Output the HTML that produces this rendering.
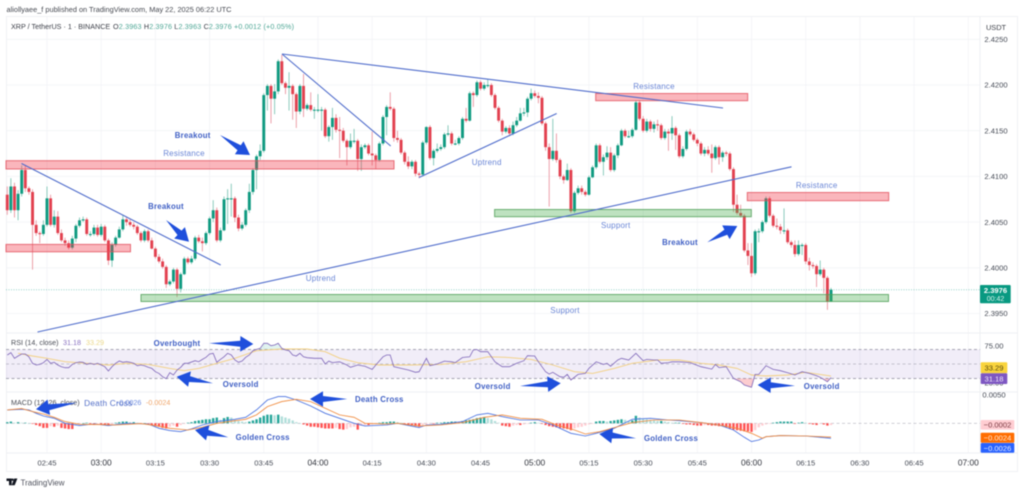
<!DOCTYPE html>
<html lang="en">
<head>
<meta charset="utf-8">
<title>XRP / TetherUS chart</title>
<style>
html,body{margin:0;padding:0;background:#fff;width:1024px;height:493px;overflow:hidden}
svg{display:block;filter:blur(0.5px)}
text{font-family:"Liberation Sans",sans-serif}
.lbl{font-size:8px;fill:#6a86d6;text-anchor:middle;letter-spacing:.2px}
.bold{font-size:7.8px;fill:#3f5fc4;font-weight:bold;text-anchor:middle;letter-spacing:.25px}
.tick{font-size:7.6px;fill:#454a55;text-anchor:middle}
.pink{fill:#f23645;fill-opacity:.36;stroke:#e2505c;stroke-opacity:.8;stroke-width:1}
.grn{fill:#4caf50;fill-opacity:.36;stroke:#4d9e55;stroke-opacity:.8;stroke-width:1}
.trend{stroke:#4f6ccb;stroke-width:1.1;fill:none}
</style>
</head>
<body>
<svg id="chart" xmlns="http://www.w3.org/2000/svg" width="1024" height="493" viewBox="0 0 1024 493">
  <rect x="0" y="0" width="1024" height="493" fill="#fff"/>
  <text x="6.5" y="12" font-size="7.6" fill="#474a52" textLength="225" lengthAdjust="spacingAndGlyphs">aliollyaee_f published on TradingView.com, May 22, 2025 06:22 UTC</text>
  <rect x="6.5" y="16.5" width="1011" height="455" fill="none" stroke="#f0f1f4"/>
  <g id="grid"></g>
  <g stroke="#eeeff3">
    <line x1="6" y1="333" x2="1018" y2="333"/>
    <line x1="6" y1="392" x2="1018" y2="392"/>
    <line x1="6" y1="453" x2="1018" y2="453"/>
    <line x1="980" y1="16" x2="980" y2="453"/>
  </g>

  <g id="candles"></g>

  <line id="priceLine" x1="6" x2="980" stroke="#089981" stroke-opacity=".55" stroke-width=".7" stroke-dasharray="1 1.5"/>

  <g>
    <rect class="pink" x="6" y="160.7" width="388" height="8.3"/>
    <rect class="pink" x="6" y="244.4" width="124.5" height="7.4"/>
    <rect class="pink" x="595.7" y="93.5" width="152" height="7.2"/>
    <rect class="pink" x="747.3" y="192.5" width="141.4" height="8.2"/>
    <rect class="grn" x="141" y="294.5" width="747.5" height="7"/>
    <rect class="grn" x="494.6" y="209.5" width="256.7" height="7.2"/>
  </g>
  <g>
    <line class="trend" x1="21.5" y1="163.5" x2="220.7" y2="265"/>
    <line class="trend" x1="37.5" y1="332" x2="791.5" y2="166.8"/>
    <line class="trend" x1="282" y1="54" x2="723" y2="108"/>
    <line class="trend" x1="282" y1="54" x2="390.7" y2="146"/>
    <line class="trend" x1="419" y1="177.5" x2="556.7" y2="113.5"/>
  </g>
  <g>
    <text class="lbl" x="184" y="156">Resistance</text>
    <text class="lbl" x="654" y="89">Resistance</text>
    <text class="lbl" x="816.7" y="188">Resistance</text>
    <text class="lbl" x="320.7" y="281">Uptrend</text>
    <text class="lbl" x="486.7" y="165">Uptrend</text>
    <text class="lbl" x="615.7" y="228">Support</text>
    <text class="lbl" x="565" y="313">Support</text>
    <text class="bold" x="192.7" y="138">Breakout</text>
    <text class="bold" x="166" y="209">Breakout</text>
    <text class="bold" x="680" y="245">Breakout</text>
  </g>

  <g>
    <rect id="rsiBand" x="6" width="974" fill="#7e57c2" fill-opacity=".11"/>
    <line id="rsi70" x1="6" x2="980" stroke="#8a8a9a" stroke-width=".7" stroke-dasharray="3 2.5"/>
    <line id="rsi50" x1="6" x2="980" stroke="#9a9aa8" stroke-opacity=".7" stroke-width=".7" stroke-dasharray="3 2.5"/>
    <line id="rsi30" x1="6" x2="980" stroke="#8a8a9a" stroke-width=".7" stroke-dasharray="3 2.5"/>
    <defs>
      <clipPath id="belowBand"><rect id="belowRect" x="6" width="974" height="30"/></clipPath>
      <clipPath id="aboveBand"><rect id="aboveRect" x="6" width="974" height="20"/></clipPath>
    </defs>
    <path id="rsiLow" fill="#f23645" fill-opacity=".25" clip-path="url(#belowBand)"/>
    <path id="rsiHigh" fill="#089981" fill-opacity=".12" clip-path="url(#aboveBand)"/>
    <polyline id="rsiMaLine" fill="none" stroke="#f2cf7e" stroke-width=".9"/>
    <polyline id="rsiLine" fill="none" stroke="#7e66b8" stroke-width=".8"/>
  </g>

  <g>
    <line id="macdZero" x1="6" x2="980" stroke="#9a9aa8" stroke-opacity=".75" stroke-width=".7" stroke-dasharray="3 2.5"/>
    <g id="hist"></g>
    <polyline id="macdLine" fill="none" stroke="#4a72e0" stroke-width=".85"/>
    <polyline id="signalLine" fill="none" stroke="#f08a3c" stroke-width=".85"/>
  </g>

  <g font-size="7.2">
    <text x="11" y="29" fill="#3c3f48">XRP / TetherUS · 1 · BINANCE</text>
    <text x="113" y="29" fill="#3c3f48" textLength="181" lengthAdjust="spacing">O<tspan fill="#4fa796">2.3963</tspan>  H<tspan fill="#4fa796">2.3976</tspan>  L<tspan fill="#4fa796">2.3963</tspan>  C<tspan fill="#4fa796">2.3976</tspan>  <tspan fill="#4fa796">+0.0012 (+0.05%)</tspan></text>
    <text x="11" y="345" fill="#4a4d56">RSI (14, close)</text>
    <text x="63" y="345" fill="#8a72c0">31.18</text>
    <text x="86" y="345" fill="#ecd98a">33.29</text>
    <text x="11" y="405" fill="#4a4d56">MACD (12, 26, close)</text>
    <text x="117" y="405" fill="#6c8be0">-0.0026</text>
    <text x="146" y="405" fill="#efa66b">-0.0024</text>
  </g>

  <g>
    <text class="bold" x="177" y="346">Overbought</text>
    <text class="bold" x="240.7" y="387">Oversold</text>
    <text class="bold" x="492.7" y="389">Oversold</text>
    <text class="bold" x="821.7" y="389">Oversold</text>
    <text class="lbl" x="108.3" y="406" style="fill:#5470c8;font-size:8.3px">Death Cross</text>
    <text class="bold" x="379.3" y="402">Death Cross</text>
    <text class="bold" x="262.7" y="440">Golden Cross</text>
    <text class="bold" x="671" y="441">Golden Cross</text>
  </g>
  <g id="arrows"></g>

  <g id="priceAxis"></g>
  <g id="timeAxis"></g>

  <g>
    <rect x="982.7" y="19" width="32" height="17.5" rx="1.5" fill="#fff"/>
    <text x="996" y="30" font-size="7.4" fill="#3c3f48" text-anchor="middle">USDT</text>
  </g>
  <g font-size="7.6" text-anchor="middle">
    <rect x="980" y="285" width="30.7" height="18.3" rx="1" fill="#089981"/>
    <text x="995.5" y="293" fill="#fff" font-weight="bold">2.3976</text>
    <text x="995.5" y="301" fill="#d8f3ec" font-size="7">00:42</text>
    <text x="994" y="348.5" fill="#454a55">75.00</text>
    <text x="994" y="385.5" fill="#454a55">25.00</text>
    <rect x="980.7" y="362.3" width="26.6" height="11" rx="1" fill="#f9d43c"/>
    <text x="994" y="370.7" fill="#5a4a10">33.29</text>
    <rect x="980.7" y="373.3" width="26.6" height="10.7" rx="1" fill="#7e57c2"/>
    <text x="994" y="381.5" fill="#f0e8fb">31.18</text>
    <text x="994" y="397.3" fill="#454a55">0.0050</text>
    <rect x="980.7" y="420" width="33.6" height="9.6" rx="1" fill="#ffcdd2"/>
    <text x="997.5" y="427.6" fill="#7a3a42">−0.0002</text>
    <rect x="980.7" y="432.7" width="33.6" height="10" rx="1" fill="#ff6d00"/>
    <text x="997.5" y="440.6" fill="#ffe6d2">−0.0024</text>
    <rect x="980.7" y="443" width="33.6" height="9.7" rx="1" fill="#2962ff"/>
    <text x="997.5" y="450.8" fill="#e3ebff">−0.0026</text>
  </g>

  <g>
    <path d="M6.5 478.5h5.2v6.7h-2.7v-4.2h-2.5zM11.6 485.2l2.6-6.7h3.2l-2.7 6.7z" fill="#131722"/>
    <circle cx="12.6" cy="479.7" r="1.2" fill="#131722"/>
    <text x="20.5" y="485.5" font-size="8" fill="#50535e">TradingView</text>
  </g>
</svg>

<script>
const firstOpen = 2.4080;
const closes = [
2.4063,2.4089,2.4063,2.4081,2.4107,2.4087,2.4083,2.4047,2.4038,2.4037,
2.4047,2.4076,2.4047,2.4056,2.4038,2.4030,2.4027,2.4022,2.4032,2.4046,
2.4052,2.4053,2.4037,2.4037,2.4044,2.4036,2.4045,2.4030,2.4008,2.4025,
2.4033,2.4042,2.4053,2.4050,2.4047,2.4045,2.4038,2.4030,2.4040,2.4030,
2.4021,2.4012,2.4007,2.4001,2.3982,2.3985,2.3998,2.3977,2.3993,2.4010,
2.4006,2.4010,2.4033,2.4029,2.4027,2.4038,2.4054,2.4063,2.4030,2.4041,
2.4075,2.4076,2.4076,2.4055,2.4043,2.4047,2.4063,2.4083,2.4107,2.4122,
2.4128,2.4189,2.4199,2.4185,2.4193,2.4226,2.4202,2.4197,2.4199,2.4190,
2.4171,2.4199,2.4174,2.4178,2.4173,2.4173,2.4173,2.4173,2.4144,2.4154,
2.4164,2.4151,2.4150,2.4139,2.4132,2.4139,2.4139,2.4119,2.4132,2.4134,
2.4125,2.4123,2.4118,2.4136,2.4165,2.4176,2.4174,2.4142,2.4140,2.4126,
2.4116,2.4111,2.4116,2.4103,2.4102,2.4137,2.4154,2.4120,2.4128,2.4130,
2.4132,2.4146,2.4147,2.4136,2.4136,2.4142,2.4163,2.4161,2.4191,2.4189,
2.4203,2.4196,2.4200,2.4200,2.4189,2.4175,2.4161,2.4149,2.4153,2.4147,
2.4156,2.4161,2.4169,2.4170,2.4185,2.4191,2.4188,2.4186,2.4158,2.4132,
2.4119,2.4128,2.4118,2.4100,2.4096,2.4107,2.4062,2.4082,2.4087,2.4083,
2.4080,2.4099,2.4110,2.4134,2.4116,2.4121,2.4126,2.4107,2.4123,2.4134,
2.4150,2.4144,2.4144,2.4151,2.4181,2.4163,2.4150,2.4160,2.4152,2.4157,
2.4156,2.4142,2.4149,2.4147,2.4153,2.4145,2.4122,2.4130,2.4149,2.4146,
2.4140,2.4136,2.4125,2.4129,2.4125,2.4120,2.4132,2.4121,2.4126,2.4125,
2.4108,2.4069,2.4060,2.4057,2.4019,2.4013,2.3994,2.4040,2.4040,2.4050,
2.4076,2.4057,2.4046,2.4045,2.4041,2.4041,2.4028,2.4025,2.4015,2.4025,
2.4025,2.4007,2.4003,2.4002,2.3993,2.3998,2.3989,2.3963,2.3976];
const highs = [
2.4089,2.4098,2.4093,2.4085,2.4112,2.4112,2.4089,2.4086,2.4052,2.4040,
2.4052,2.4089,2.4080,2.4063,2.4062,2.4042,2.4033,2.4030,2.4035,2.4048,
2.4055,2.4056,2.4055,2.4040,2.4047,2.4047,2.4048,2.4047,2.4032,2.4028,
2.4035,2.4045,2.4058,2.4056,2.4053,2.4050,2.4047,2.4040,2.4042,2.4042,
2.4033,2.4023,2.4015,2.4010,2.4003,2.3987,2.4000,2.4000,2.3995,2.4012,
2.4012,2.4013,2.4035,2.4036,2.4033,2.4040,2.4056,2.4074,2.4066,2.4044,
2.4078,2.4086,2.4092,2.4078,2.4058,2.4050,2.4065,2.4092,2.4109,2.4124,
2.4135,2.4191,2.4201,2.4201,2.4201,2.4228,2.4233,2.4204,2.4214,2.4201,
2.4192,2.4201,2.4212,2.4180,2.4192,2.4176,2.4190,2.4176,2.4175,2.4156,
2.4175,2.4168,2.4165,2.4153,2.4141,2.4147,2.4152,2.4141,2.4135,2.4136,
2.4136,2.4149,2.4125,2.4138,2.4167,2.4178,2.4192,2.4176,2.4150,2.4142,
2.4128,2.4122,2.4118,2.4118,2.4105,2.4139,2.4155,2.4156,2.4130,2.4136,
2.4135,2.4148,2.4156,2.4149,2.4140,2.4144,2.4165,2.4175,2.4193,2.4193,
2.4205,2.4205,2.4203,2.4206,2.4202,2.4191,2.4177,2.4163,2.4155,2.4156,
2.4160,2.4165,2.4175,2.4175,2.4187,2.4196,2.4194,2.4192,2.4188,2.4160,
2.4136,2.4163,2.4147,2.4120,2.4102,2.4114,2.4109,2.4084,2.4090,2.4090,
2.4085,2.4101,2.4112,2.4136,2.4136,2.4124,2.4133,2.4132,2.4125,2.4136,
2.4152,2.4152,2.4150,2.4153,2.4183,2.4183,2.4166,2.4163,2.4162,2.4160,
2.4162,2.4158,2.4152,2.4152,2.4166,2.4155,2.4147,2.4133,2.4151,2.4152,
2.4148,2.4142,2.4138,2.4132,2.4133,2.4135,2.4134,2.4134,2.4128,2.4128,
2.4127,2.4110,2.4080,2.4069,2.4059,2.4027,2.4027,2.4042,2.4043,2.4052,
2.4078,2.4078,2.4059,2.4054,2.4048,2.4065,2.4043,2.4030,2.4030,2.4030,
2.4027,2.4027,2.4011,2.4006,2.4004,2.4008,2.4000,2.3991,2.3978];
const lows = [
2.4058,2.4060,2.4055,2.4052,2.4078,2.4083,2.4080,2.3998,2.4035,2.4027,
2.4035,2.4045,2.4045,2.4044,2.4036,2.4028,2.4024,2.4020,2.4020,2.4028,
2.4044,2.4050,2.4035,2.4034,2.4035,2.4034,2.4034,2.4028,2.4003,2.4001,
2.4023,2.4032,2.4040,2.4046,2.4045,2.4042,2.4036,2.4028,2.4028,2.4028,
2.4020,2.4010,2.4005,2.3999,2.3978,2.3980,2.3983,2.3968,2.3973,2.3992,
2.4004,2.4004,2.4008,2.4027,2.4018,2.4025,2.4036,2.4050,2.4028,2.4028,
2.4040,2.4048,2.4056,2.4050,2.4040,2.4041,2.4045,2.4060,2.4080,2.4086,
2.4118,2.4126,2.4172,2.4158,2.4168,2.4190,2.4200,2.4190,2.4172,2.4162,
2.4153,2.4168,2.4165,2.4172,2.4171,2.4163,2.4170,2.4150,2.4142,2.4138,
2.4140,2.4148,2.4120,2.4137,2.4112,2.4130,2.4136,2.4106,2.4106,2.4130,
2.4123,2.4112,2.4108,2.4116,2.4134,2.4145,2.4172,2.4138,2.4137,2.4124,
2.4113,2.4108,2.4108,2.4100,2.4098,2.4100,2.4135,2.4118,2.4112,2.4126,
2.4128,2.4130,2.4144,2.4134,2.4134,2.4134,2.4140,2.4159,2.4160,2.4176,
2.4187,2.4194,2.4194,2.4197,2.4187,2.4173,2.4159,2.4145,2.4147,2.4144,
2.4145,2.4154,2.4160,2.4166,2.4165,2.4183,2.4186,2.4180,2.4156,2.4128,
2.4067,2.4117,2.4115,2.4097,2.4092,2.4095,2.4060,2.4060,2.4080,2.4080,
2.4078,2.4079,2.4098,2.4108,2.4114,2.4101,2.4118,2.4105,2.4105,2.4120,
2.4133,2.4142,2.4142,2.4142,2.4150,2.4161,2.4148,2.4148,2.4149,2.4148,
2.4150,2.4140,2.4140,2.4128,2.4140,2.4129,2.4120,2.4120,2.4128,2.4144,
2.4138,2.4133,2.4123,2.4122,2.4123,2.4104,2.4118,2.4113,2.4116,2.4122,
2.4106,2.4061,2.4058,2.4055,2.4017,2.4003,2.3990,2.3992,2.4028,2.4038,
2.4048,2.4055,2.4044,2.4042,2.4037,2.4037,2.4026,2.4022,2.4012,2.4013,
2.4014,2.4004,2.3997,2.3999,2.3979,2.3991,2.3972,2.3954,2.3963];

const rsiBars = [0,1,2,3,4,5,6,7,8,9,10,11,12,13,14,15,16,17,18,19,20,21,22,23,24,25,26,27,28,29,30,31,32,33,34,35,36,37,38,39,40,41,42,43,44,45,46,47,48,49,50,52,53,54,55,56,57,58,59,60,61,62,63,64,65,66,67,68,69,70,71,72,73,74,75,76,77,78,79,80,81,82,83,85,87,88,89,90,92,94,95,97,99,101,102,104,105,106,107,109,111,113,114,116,117,119,121,123,124,126,128,129,130,131,133,135,137,139,141,143,144,146,147,149,150,151,153,154,155,156,158,160,161,163,165,166,167,169,170,172,174,176,177,179,180,181,183,184,186,189,192,195,196,197,199,201,203,204,206,207,208,210,212,214,216,218,220,222,224,225,227,228];
const rsiValues = [62.4,65.6,57.8,61,63.8,63.8,60,50.9,48.6,49.5,51.8,56.4,50.9,52.3,48.6,46.3,44.9,44.9,49.5,51.8,52.7,52.3,49.5,50.9,49.5,50.9,48.6,46.3,40.3,46.3,50.9,54.1,52.3,53.2,52.3,50.9,47.7,48.6,47.7,45.4,44,39.4,37.1,32.5,29.7,38,34.8,41.7,45.4,50.9,50.9,54.6,53.2,56.4,59.2,63.8,64.7,52.3,56.4,60,64.7,62.4,55.5,52.3,54.1,59.2,62.4,68.4,70.2,71.6,78.5,78.5,75.3,76.2,78.5,71.6,69.3,68.4,62.4,61,64.7,60,58.7,57.8,57.8,50,54,52,53,48.6,45.4,48.6,47,42.6,48.6,60,62.4,62.4,46.3,44,41.7,38.5,39.4,57.8,47.7,50,54,53,52,59,60,69.3,70,67,67,53,46.3,46.3,50.9,54.6,61.5,61,53,39.4,36,38.5,32.5,31.6,35.7,27.9,35.7,37,44,53,49.5,51,47,55.5,57.8,55.5,64.7,54.6,56.4,55.5,55.5,51,52,53,53,52,46.3,43,49.5,45,46.3,30.2,25.6,21,17.8,35.7,35.7,47.7,42.6,40.8,38,34.8,39.4,37,33.9,31.6,25.6,31.18];
const rsiMaBars = [3,7,11,16,22,28,33,39,45,49,53,58,63,69,76,83,88,92,97,103,111,120,127,133,138,145,151,157,162,168,173,180,186,192,197,202,206,210,216,221,228];
const rsiMaValues = [64.7,61,57.8,53.2,50.9,48.6,50.9,49.5,44,40.8,44,50.9,57.8,68.4,70.7,70.7,67,58,51.8,48.6,48.6,49.5,53.2,60,59.2,56.4,48.6,39.4,37,44,50.9,55.5,55.5,50.9,48.6,44,34.8,33.4,34.8,38.5,33.29];

const macdBars = [0,4,6,8,10,13,16,20,24,28,33,39,42,45,48,51,54,58,63,66,69,72,75,77,80,84,88,92,96,99,105,108,114,116,120,126,130,133,137,142,147,151,156,160,163,168,173,178,183,186,192,197,201,204,206,208,210,214,221,228];
const macdValues = [0.00232,0.00243,0.00232,0.00174,0.00127,0.00087,0,-0.0004,-0.00012,-0.0004,0,-0.00012,-0.00087,-0.00127,-0.00145,-0.00098,-0.00029,0.00029,0.00069,0.00104,0.00232,0.00405,0.00463,0.00463,0.00405,0.00301,0.00174,0.00087,0,-0.00046,-0.00029,0,-0.00075,-0.00029,-0.00017,0.00029,0.00145,0.00174,0.00116,0.00058,0.00058,-0.00029,-0.00174,-0.00220,-0.00174,-0.00087,0.00069,0.00087,0.00058,0.00046,0.00012,-0.00029,-0.00116,-0.00243,-0.00318,-0.00290,-0.00232,-0.00214,-0.00220,-0.0026];
const signalBars = [0,4,7,10,13,16,20,26,30,37,41,45,50,54,58,63,66,69,72,76,80,84,88,92,96,99,105,108,114,120,126,132,137,142,148,152,157,160,164,169,173,179,186,192,197,202,206,209,210,214,221,228];
const signalValues = [0.00232,0.00255,0.00203,0.00162,0.00104,0.00029,-0.00017,-0.00023,-0.00029,-0.00006,-0.0004,-0.00087,-0.00116,-0.00069,0,0.00046,0.00069,0.00145,0.00290,0.00376,0.00417,0.00376,0.00261,0.00145,0.00104,0,-0.00012,0,-0.00046,-0.00029,0.00012,0.00104,0.00145,0.00087,0.00069,-0.00029,-0.00116,-0.00185,-0.00145,-0.00058,0.00012,0.00058,0.00058,0.00012,-0.00029,-0.00087,-0.00174,-0.00260,-0.00232,-0.00214,-0.00220,-0.0024];
const histValues = [
0.0002,0.0003,0.0001,0.0002,0.0001,0.0001,0,-0.0001,-0.0003,-0.0005,
-0.0008,-0.0008,-0.0005,-0.0006,-0.0004,-0.0008,-0.0009,-0.0010,-0.0010,-0.0002,
-0.0001,0,0.0001,-0.0001,-0.0003,-0.0002,-0.0002,-0.0003,-0.0004,-0.0002,
0.0001,0.0002,0.0003,0.0003,0.0002,0.0002,0.0001,-0.0001,0,-0.0002,
-0.0004,-0.0005,-0.0006,-0.0008,-0.0009,-0.0006,-0.0004,-0.0006,-0.0003,-0.0001,
0.0001,0.0002,0.0004,0.0005,0.0006,0.0007,0.0007,0.0009,0.0010,0.0006,
0.0009,0.0011,0.0010,0.0006,0.0004,0.0003,0.0002,0.0003,0.0005,0.0007,
0.0010,0.0013,0.0015,0.0015,0.0014,0.0015,0.0012,0.0010,0.0008,0.0005,
0.0002,0,-0.0002,-0.0004,-0.0006,-0.0006,-0.0007,-0.0008,-0.0009,-0.0009,
-0.0009,-0.0008,-0.0010,-0.0011,-0.0010,-0.0007,-0.0006,-0.0011,-0.0004,-0.0003,
-0.0003,-0.0002,-0.0001,0.0001,0.0002,0.0002,0.0003,0.0003,0.0002,0.0001,
-0.0002,-0.0003,-0.0004,-0.0005,-0.0006,-0.0003,-0.0002,-0.0001,-0.0001,0.0001,
0.0001,0.0002,0.0002,0.0003,0.0003,0.0002,0.0004,0.0005,0.0006,0.0007,
0.0009,0.0010,0.0011,0.0009,0.0007,0.0004,0.0001,-0.0004,-0.0005,-0.0006,
-0.0004,-0.0003,-0.0003,-0.0002,-0.0001,0.0001,0.0002,0.0001,-0.0001,-0.0003,
-0.0005,-0.0006,-0.0007,-0.0008,-0.0009,-0.0010,-0.0012,-0.0009,-0.0007,-0.0006,
-0.0004,-0.0002,-0.0001,0.0003,0.0004,0.0004,0.0003,0.0004,0.0005,0.0006,
0.0007,0.0006,0.0004,0.0005,0.0013,0.0010,0.0008,0.0007,0.0006,0.0005,
0.0004,0.0004,0.0003,0.0002,0.0001,0.0001,0.0001,-0.0001,-0.0002,-0.0002,
-0.0003,-0.0004,-0.0004,-0.0003,-0.0003,-0.0004,-0.0004,-0.0005,-0.0005,-0.0007,
-0.0009,-0.0011,-0.0012,-0.0013,-0.0014,-0.0014,-0.0015,-0.0012,-0.0007,-0.0004,
-0.0002,-0.0001,0.0001,0.0002,0.0003,0.0003,0.0003,0.0003,-0.0001,0.0001,
0.0002,0.0001,-0.0001,-0.0002,-0.0003,-0.0001,-0.0002,-0.0004,-0.0003];

const priceTicks = [2.4250,2.4200,2.4150,2.4100,2.4050,2.4000,2.3950];
const timeLabels = ['02:45','03:00','03:15','03:30','03:45','04:00','04:15','04:30','04:45','05:00','05:15','05:30','05:45','06:00','06:15','06:30','06:45','07:00'];
const lastPrice = 2.3976;
const rsiLevels = [70,50,30];

const NS = 'http://www.w3.org/2000/svg';
function xBar(i){ return 7.25 + 3.613 * i; }
function xLabel(k){ return xBar(11 + 15 * k); }
function yPrice(p){ return 85 + (2.42 - p) * 9140; }
function yRsi(v){ return 364 - (v - 50) * 0.725; }
function yMacd(v){ return 423.3 - v * 5760; }
function mk(tag, attrs, parent){
  const el = document.createElementNS(NS, tag);
  for (const k in attrs) el.setAttribute(k, attrs[k]);
  parent.appendChild(el);
  return el;
}
const byId = function(id){ return document.getElementById(id); };

const gridLayer = byId('grid');
priceTicks.forEach(function(p){
  const gl = mk('line', {x1:6, x2:980, y1:yPrice(p), y2:yPrice(p), stroke:'#f2f3f6', 'stroke-width':.8}, gridLayer);
  
  
});
timeLabels.forEach(function(t, k){
  const gl = mk('line', {x1:xLabel(k), x2:xLabel(k), y1:17, y2:453, stroke:'#f2f3f6', 'stroke-width':.8}, gridLayer);
  
  
});

const candleLayer = byId('candles');
closes.forEach(function(c, i){
  const o = i === 0 ? firstOpen : closes[i - 1];
  const up = c >= o;
  const col = up ? '#0f9a80' : '#e2404f';
  const wickCol = up ? '#7fc6b6' : '#ea95a0';
  const g = mk('g', {}, candleLayer);
  
  
  mk('line', {x1:xBar(i), x2:xBar(i), y1:yPrice(highs[i]), y2:yPrice(lows[i]), stroke:wickCol, 'stroke-width':.9}, g);
  const top = yPrice(Math.max(o, c));
  const h = Math.max(1.1, Math.abs(yPrice(o) - yPrice(c)));
  mk('rect', {x:xBar(i) - 1.45, y:top, width:2.9, height:h, fill:col}, g);
});

byId('priceLine').setAttribute('y1', yPrice(lastPrice));
byId('priceLine').setAttribute('y2', yPrice(lastPrice));

byId('rsiBand').setAttribute('y', yRsi(rsiLevels[0]));
byId('rsiBand').setAttribute('height', yRsi(rsiLevels[2]) - yRsi(rsiLevels[0]));
[['rsi70', rsiLevels[0]], ['rsi50', rsiLevels[1]], ['rsi30', rsiLevels[2]]].forEach(function(pair){
  byId(pair[0]).setAttribute('y1', yRsi(pair[1]));
  byId(pair[0]).setAttribute('y2', yRsi(pair[1]));
});
function seriesPoints(bars, vals, yFn){
  return bars.map(function(b, i){ return xBar(b).toFixed(1) + ',' + yFn(vals[i]).toFixed(1); }).join(' ');
}
byId('rsiLine').setAttribute('points', seriesPoints(rsiBars, rsiValues, yRsi));
byId('rsiMaLine').setAttribute('points', seriesPoints(rsiMaBars, rsiMaValues, yRsi));
const rsiAreaBase = seriesPoints(rsiBars, rsiValues, yRsi);
byId('belowRect').setAttribute('y', yRsi(rsiLevels[2]));
byId('aboveRect').setAttribute('y', yRsi(rsiLevels[0]) - 20);
byId('rsiLow').setAttribute('d', 'M' + xBar(rsiBars[0]) + ' ' + yRsi(rsiLevels[2]) + ' L' + rsiAreaBase.split(' ').join(' L') + ' L' + xBar(rsiBars[rsiBars.length - 1]) + ' ' + yRsi(rsiLevels[2]) + 'Z');
byId('rsiHigh').setAttribute('d', 'M' + xBar(rsiBars[0]) + ' ' + yRsi(rsiLevels[0]) + ' L' + rsiAreaBase.split(' ').join(' L') + ' L' + xBar(rsiBars[rsiBars.length - 1]) + ' ' + yRsi(rsiLevels[0]) + 'Z');

byId('macdZero').setAttribute('y1', yMacd(0));
byId('macdZero').setAttribute('y2', yMacd(0));
const histLayer = byId('hist');
histValues.forEach(function(v, i){
  const prev = i === 0 ? 0 : histValues[i - 1];
  let col;
  if (v >= 0) { col = v >= prev ? '#26a69a' : '#b2dfdb'; }
  else { col = v <= prev ? '#ff5252' : '#ffcdd2'; }
  const y0 = yMacd(0), y1 = yMacd(v);
  const bar = mk('rect', {x:xBar(i) - 1.2, y:Math.min(y0, y1), width:2.4, height:Math.max(.5, Math.abs(y1 - y0)), fill:col}, histLayer);
  
  
});
byId('macdLine').setAttribute('points', seriesPoints(macdBars, macdValues, yMacd));
byId('signalLine').setAttribute('points', seriesPoints(signalBars, signalValues, yMacd));

const priceAxis = byId('priceAxis');
priceTicks.forEach(function(p){
  const t = mk('text', {x:996, y:yPrice(p) + 2.7, class:'tick'}, priceAxis);
  t.textContent = p.toFixed(4);
  
  
});
const timeAxis = byId('timeAxis');
timeLabels.forEach(function(lab, k){
  const hour = lab.slice(-2) === '00';
  const t = mk('text', {x:xLabel(k), y:465.5, class:'tick'}, timeAxis);
  t.textContent = lab;
  if (hour) { t.setAttribute('font-size', '8.4'); t.style.fontSize = '8.4px'; t.style.fill = '#30333c'; }
  
  
});

function drawArrow(name, x1, y1, x2, y2){
  const dx = x2 - x1, dy = y2 - y1, len = Math.hypot(dx, dy);
  const ux = dx / len, uy = dy / len, nx = -uy, ny = ux;
  const hl = Math.min(13, len * .45), neck = 3, head = 7.8;
  const bx = x2 - ux * hl, by = y2 - uy * hl;
  const pts = [
    [x1, y1],
    [bx + nx * neck, by + ny * neck],
    [bx + nx * head, by + ny * head],
    [x2, y2],
    [bx - nx * head, by - ny * head],
    [bx - nx * neck, by - ny * neck]
  ].map(function(p){ return p[0].toFixed(1) + ',' + p[1].toFixed(1); }).join(' ');
  const el = mk('polygon', {points:pts, fill:'#1f4fdc'}, byId('arrows'));
  
  
}
drawArrow('breakout-arrow-1', 220, 135, 250, 155);
drawArrow('breakout-arrow-2', 166, 220, 189, 241.7);
drawArrow('breakout-arrow-3', 707.3, 242.3, 737.3, 226);
drawArrow('overbought-arrow', 209, 343.3, 253.3, 344);
drawArrow('oversold-arrow-1', 213, 383.3, 176.7, 376.7);
drawArrow('oversold-arrow-2', 520, 386, 560.7, 383.3);
drawArrow('oversold-arrow-3', 795, 385.7, 757.7, 385);
drawArrow('death-cross-arrow-1', 76.7, 402.7, 36, 409.3);
drawArrow('death-cross-arrow-2', 347.3, 399, 310, 399);
drawArrow('golden-cross-arrow-1', 228.3, 437.3, 195, 430);
drawArrow('golden-cross-arrow-2', 636, 438.3, 599.3, 434);
</script>
</body>
</html>
